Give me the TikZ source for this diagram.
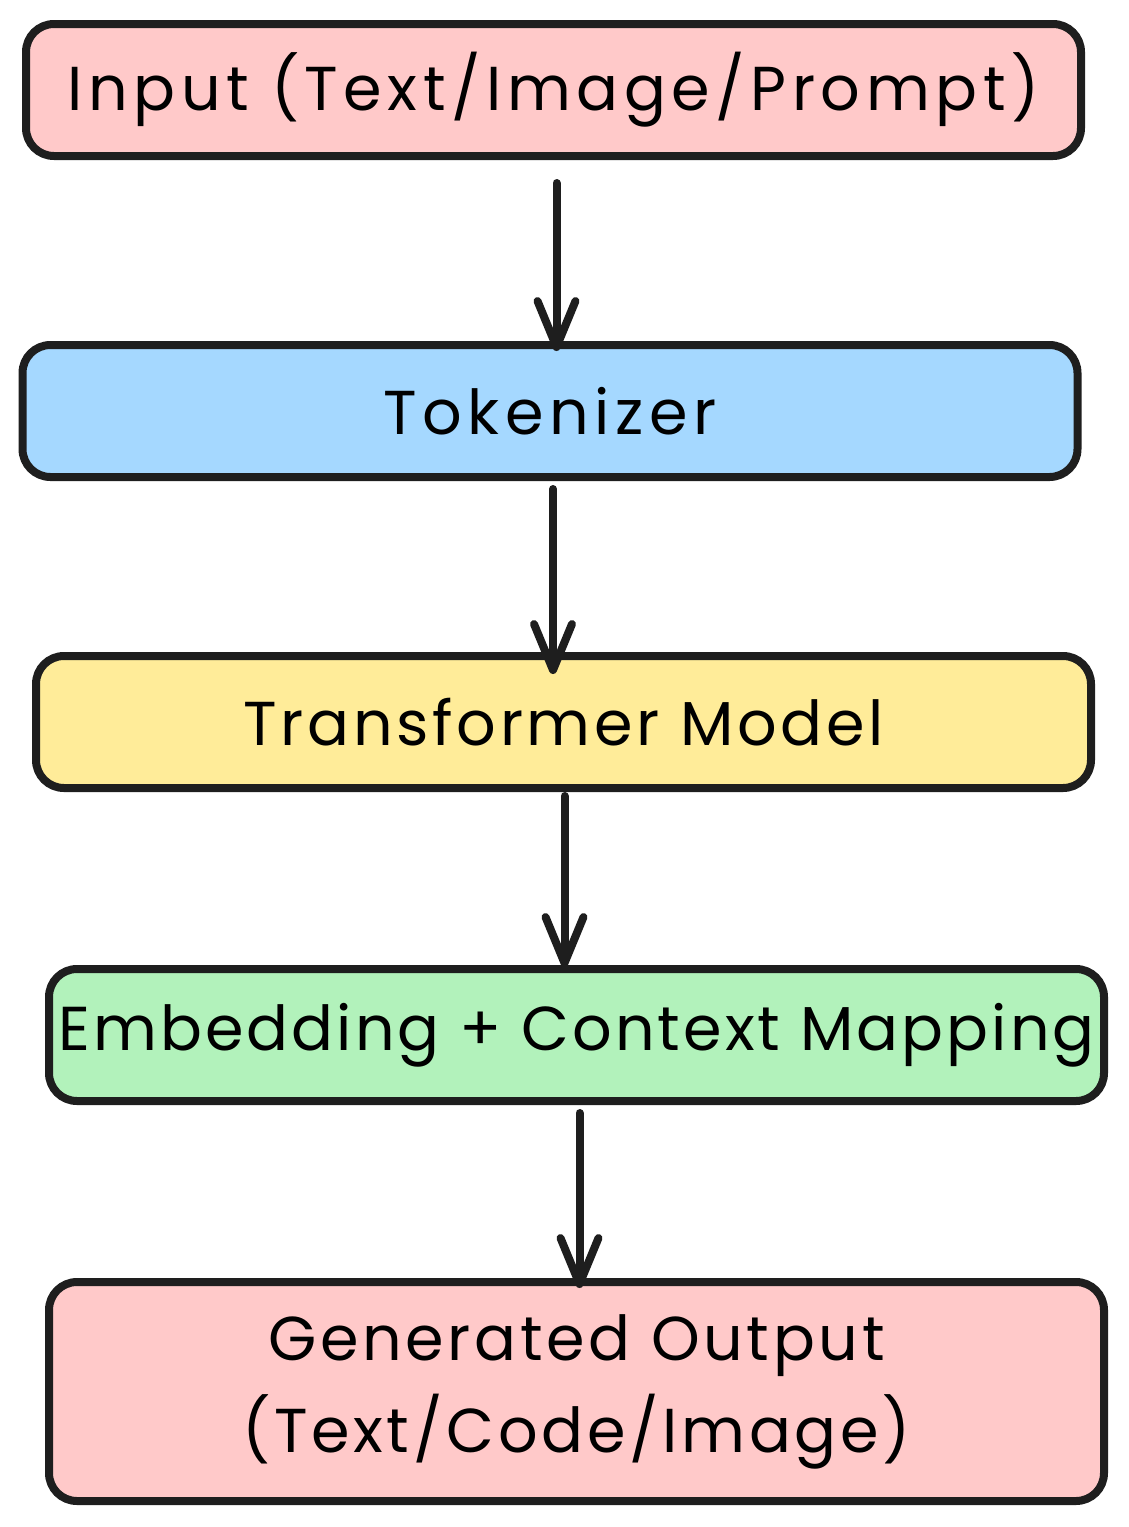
\documentclass[tikz,border=0pt]{standalone}
\usepackage{fontspec}
\setmainfont{Poppins}[LetterSpace=6]
\usetikzlibrary{arrows.meta}
\definecolor{inkline}{HTML}{1E1E1E}
\definecolor{pinkfill}{HTML}{FFC9C9}
\definecolor{bluefill}{HTML}{A5D8FF}
\definecolor{yellowfill}{HTML}{FFEC99}
\definecolor{greenfill}{HTML}{B2F2BB}
\begin{document}
\begin{tikzpicture}
[x=1pt,y=-1pt,%
  every node/.style={shape=rectangle,rounded corners=28pt,draw=inkline,line width=8pt,%
    minimum width=1055pt,minimum height=132pt,align=center,inner sep=0pt,%
    font=\fontsize{62}{92}\selectfont},%
  flow/.style={draw=inkline,line width=8pt,line cap=round,%
    -{Straight Barb[length=46pt,width=38pt,round]}}]
\useasboundingbox (0,0) rectangle (1129,1527);
\node[fill=pinkfill,font=\fontsize{62}{92}\selectfont\addfontfeature{LetterSpace=9}]
  (input) at (553.5,90) {Input (Text/Image/Prompt)};
\node[fill=bluefill,font=\fontsize{62}{92}\selectfont\addfontfeature{LetterSpace=9}]
  (token) at (550,411) {Tokenizer};
\node[fill=yellowfill] (trans) at (563.5,722) {Transformer Model};
\node[fill=greenfill,font=\fontsize{62}{92}\selectfont\addfontfeature{LetterSpace=5}]
  (embed) at (576.5,1035) {Embedding + Context Mapping};
\node[fill=pinkfill,minimum height=219pt] (output) at (576.5,1391.5)
  {\raisebox{-4pt}{Generated Output}\\\raisebox{-4pt}{(Text/Code/Image)}};
% connectors
\draw[flow,shorten <=23pt,shorten >=-10pt] ([xshift=3pt]input.south) -- ([xshift=3pt]input.south |- token.north);
\draw[flow,shorten <=8pt,shorten >=-22pt] ([xshift=3pt]token.south) -- ([xshift=3pt]token.south |- trans.north);
\draw[flow,shorten <=4pt,shorten >=-2pt] ([xshift=1pt]trans.south) -- ([xshift=1pt]trans.south |- embed.north);
\draw[flow,shorten <=8pt,shorten >=-10pt] ([xshift=3pt]embed.south) -- ([xshift=3pt]embed.south |- output.north);
\end{tikzpicture}
\end{document}
